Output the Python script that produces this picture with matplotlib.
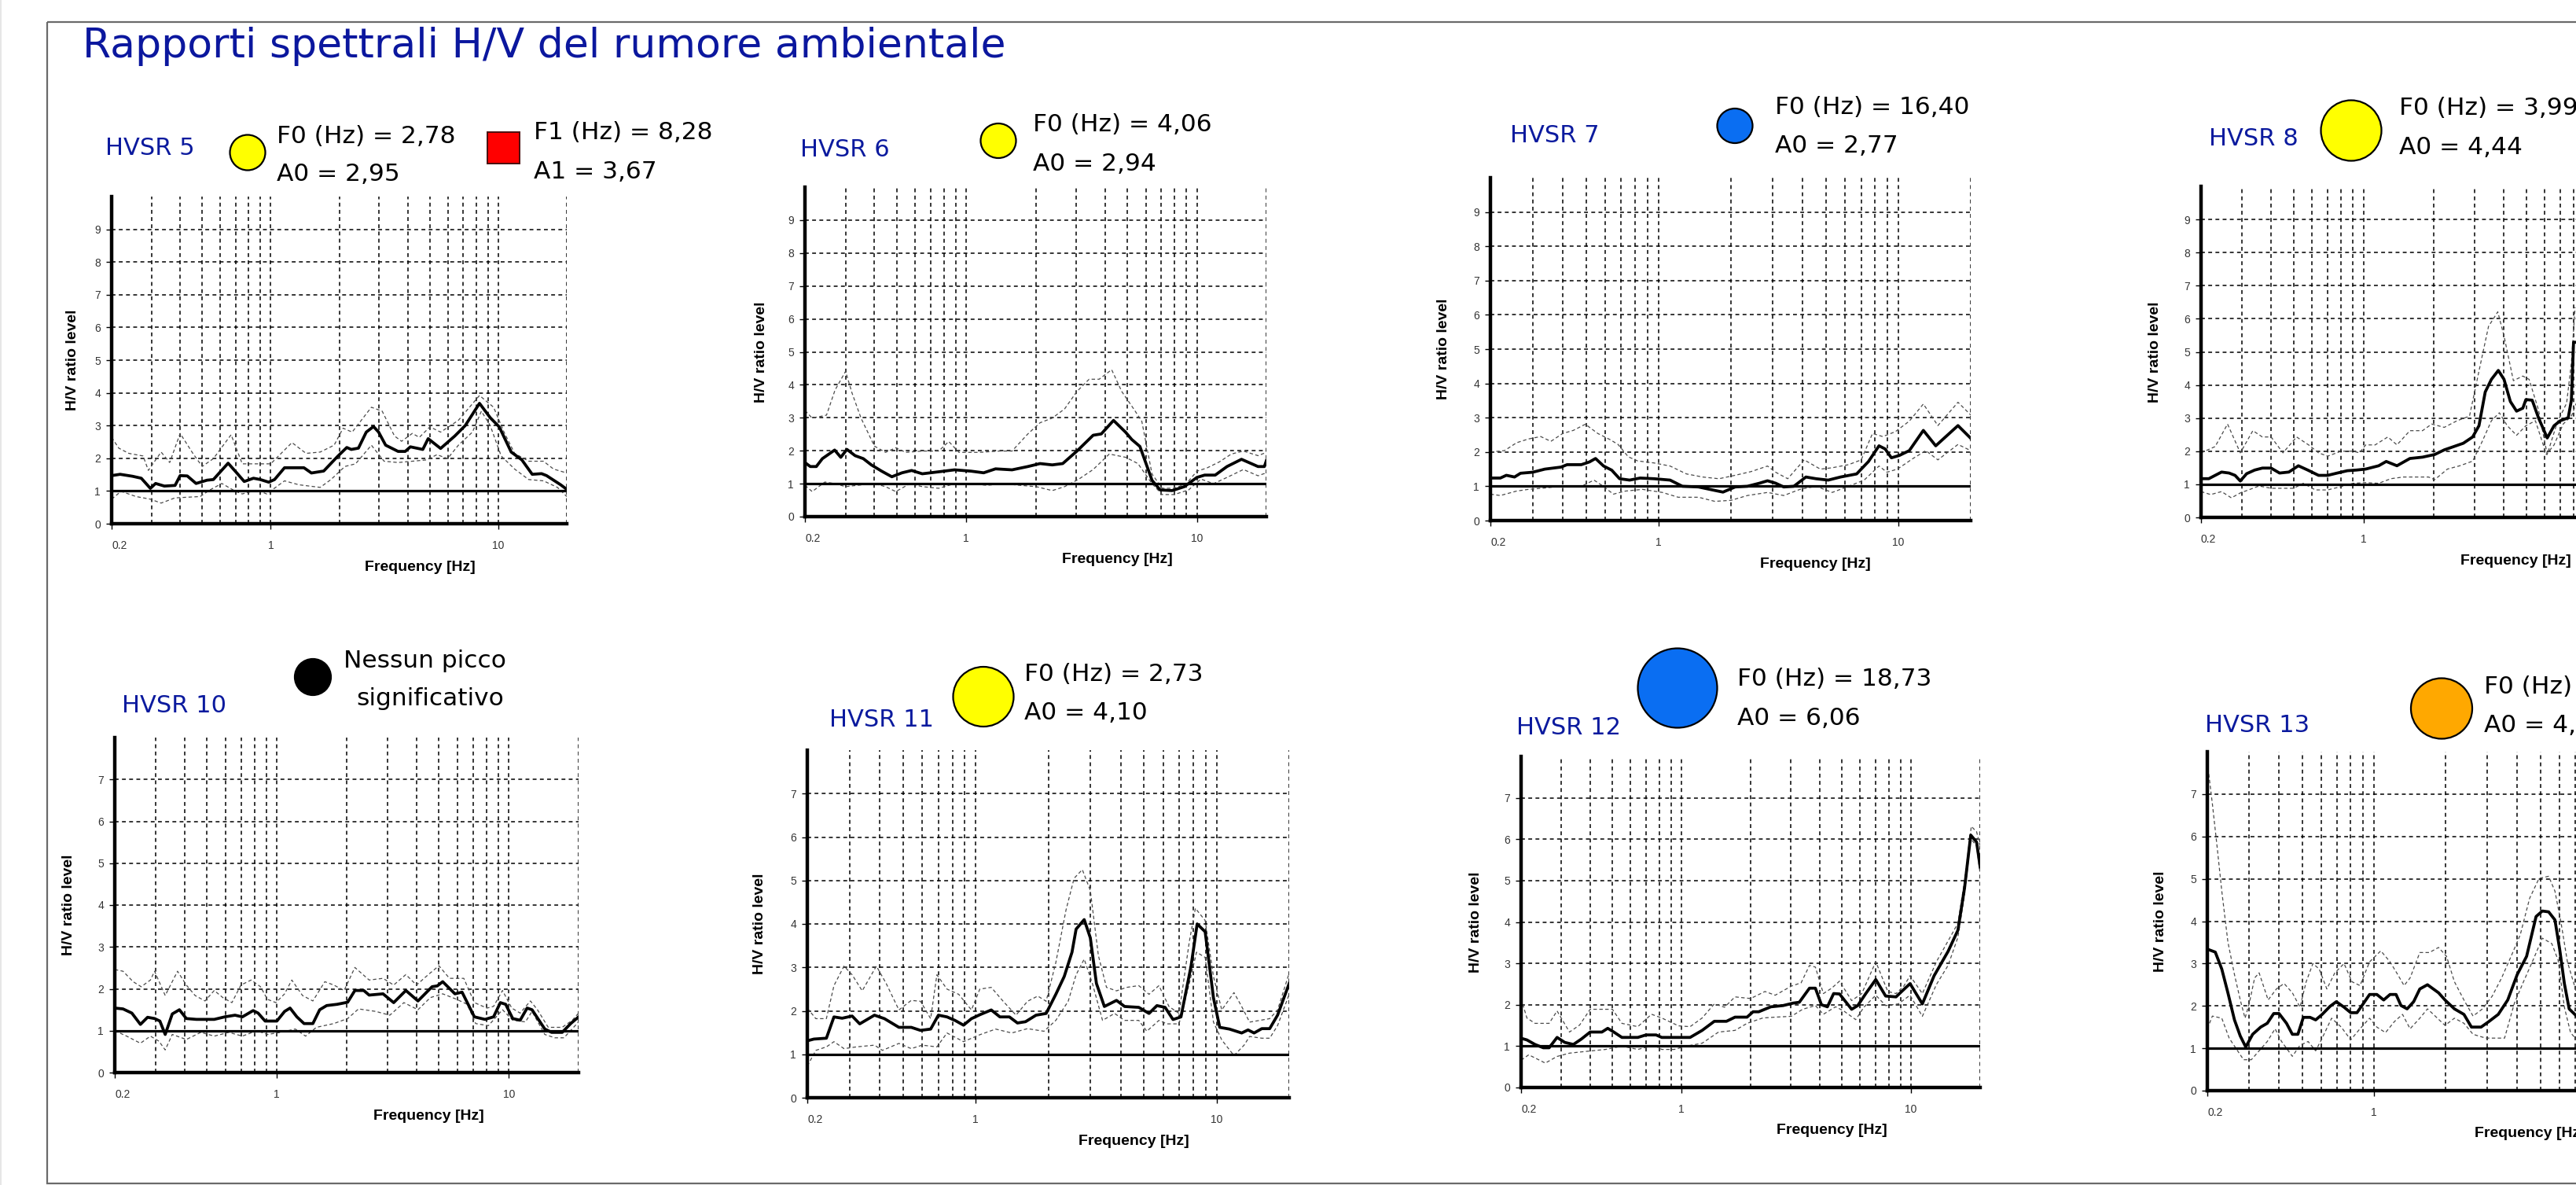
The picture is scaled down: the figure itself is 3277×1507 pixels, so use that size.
import matplotlib
matplotlib.use("Agg")
import matplotlib.pyplot as plt
from matplotlib.patches import Ellipse, Rectangle
from matplotlib.ticker import NullLocator

# Figure size in pixels (dpi 100)
W, H = 3277, 1507

TITLE = "Rapporti spettrali H/V del rumore ambientale"

# Frequencies of the dashed vertical grid
grid_f = [0.3, 0.4, 0.5, 0.6, 0.7, 0.8, 0.9, 1, 2, 3, 4, 5, 6, 7, 8, 9, 10, 20]

# ---- HVSR 5 : (frequency Hz, H/V) ----
h5_mean = [(0.2, 1.47), (0.218, 1.51), (0.247, 1.45), (0.27, 1.39), (0.296, 1.08), (0.312, 1.23),
           (0.341, 1.15), (0.38, 1.17), (0.40, 1.47), (0.43, 1.46), (0.47, 1.23), (0.525, 1.33),
           (0.56, 1.35), (0.65, 1.85), (0.71, 1.55), (0.765, 1.29), (0.84, 1.39), (0.90, 1.35),
           (0.98, 1.27), (1.04, 1.35), (1.15, 1.71), (1.40, 1.71), (1.51, 1.55), (1.71, 1.61),
           (1.97, 2.06), (2.16, 2.33), (2.26, 2.27), (2.43, 2.31), (2.63, 2.80), (2.83, 2.97),
           (2.98, 2.80), (3.20, 2.40), (3.63, 2.21), (3.90, 2.21), (4.11, 2.35), (4.66, 2.27),
           (4.92, 2.60), (5.58, 2.30), (6.44, 2.68), (7.16, 3.00), (8.27, 3.68), (9.22, 3.24),
           (10.1, 2.96), (11.4, 2.19), (12.7, 1.95), (14.1, 1.51), (15.5, 1.53), (16.3, 1.47),
           (18.8, 1.19), (20.0, 1.05)]
h5_up = [(0.2, 2.64), (0.215, 2.31), (0.238, 2.15), (0.275, 2.07), (0.29, 1.63), (0.33, 2.19),
         (0.36, 1.87), (0.40, 2.76), (0.455, 2.15), (0.50, 1.75), (0.56, 1.99), (0.67, 2.72),
         (0.75, 1.83), (0.87, 1.83), (1.0, 1.83), (1.24, 2.48), (1.43, 2.15), (1.65, 2.19),
         (1.90, 2.40), (2.08, 2.92), (2.28, 2.80), (2.77, 3.56), (3.09, 3.44), (3.50, 2.68),
         (3.76, 2.52), (4.19, 2.76), (4.50, 2.64), (5.01, 2.96), (5.58, 2.80), (6.68, 3.16),
         (8.27, 3.92), (9.54, 3.56), (10.6, 2.80), (11.8, 2.15), (13.6, 1.91), (15.8, 1.91),
         (17.5, 1.67), (20.0, 1.55)]
h5_lo = [(0.2, 0.75), (0.22, 0.99), (0.256, 0.83), (0.296, 0.75), (0.33, 0.63), (0.38, 0.79),
         (0.49, 0.83), (0.54, 1.03), (0.61, 1.23), (0.70, 0.99), (0.75, 0.91), (0.87, 1.03),
         (0.96, 0.91), (1.15, 1.31), (1.33, 1.19), (1.65, 1.11), (1.84, 1.35), (2.12, 1.75),
         (2.36, 1.83), (2.77, 2.40), (3.15, 1.91), (3.63, 1.87), (4.19, 1.91), (4.83, 1.95),
         (5.38, 2.11), (5.99, 1.99), (6.68, 2.40), (7.70, 2.80), (8.43, 3.44), (9.22, 3.00),
         (10.3, 2.07), (11.8, 1.67), (13.6, 1.35), (15.8, 1.31), (18.2, 1.11), (20.0, 0.83)]

# ---- HVSR 6 ----
h6_mean = [(0.2, 1.64), (0.211, 1.52), (0.224, 1.52), (0.238, 1.76), (0.269, 2.02), (0.286, 1.80),
           (0.304, 2.04), (0.33, 1.85), (0.358, 1.76), (0.388, 1.57), (0.43, 1.38), (0.476, 1.21),
           (0.527, 1.33), (0.58, 1.40), (0.645, 1.30), (0.759, 1.36), (0.89, 1.42), (1.05, 1.38),
           (1.19, 1.33), (1.34, 1.45), (1.58, 1.42), (1.85, 1.52), (2.09, 1.61), (2.36, 1.57),
           (2.62, 1.61), (3.02, 1.99), (3.55, 2.47), (3.85, 2.51), (4.35, 2.92), (4.91, 2.56),
           (5.22, 2.34), (5.66, 2.13), (6.39, 1.10), (6.93, 0.81), (7.81, 0.79), (8.82, 0.91),
           (10.0, 1.19), (10.8, 1.26), (12.0, 1.26), (13.5, 1.52), (15.6, 1.74), (18.4, 1.52),
           (19.6, 1.52), (20.0, 1.70)]
h6_up = [(0.2, 3.22), (0.215, 2.99), (0.248, 3.08), (0.27, 3.84), (0.30, 4.41), (0.32, 3.75),
         (0.35, 2.99), (0.40, 2.14), (0.447, 1.95), (0.495, 2.09), (0.547, 1.95), (0.645, 1.99),
         (0.76, 1.99), (0.84, 2.28), (0.93, 1.95), (1.14, 1.95), (1.39, 1.99), (1.58, 1.99),
         (1.85, 2.51), (2.09, 2.85), (2.36, 2.99), (2.67, 3.27), (3.02, 3.80), (3.41, 4.17),
         (3.77, 4.17), (4.27, 4.46), (4.72, 3.80), (5.32, 3.27), (5.77, 2.89), (6.39, 1.29),
         (7.07, 0.86), (7.98, 0.86), (9.0, 1.00), (10.0, 1.38), (11.0, 1.47), (12.5, 1.66),
         (14.1, 1.90), (15.9, 1.99), (18.4, 1.85), (20.0, 1.95)]
h6_lo = [(0.2, 0.95), (0.215, 0.76), (0.244, 1.05), (0.27, 1.00), (0.30, 0.91), (0.337, 0.95),
         (0.40, 1.00), (0.447, 0.91), (0.495, 0.76), (0.57, 1.00), (0.645, 0.91), (0.76, 0.86),
         (0.89, 1.00), (1.05, 1.00), (1.23, 0.95), (1.45, 1.00), (1.71, 0.95), (2.01, 0.91),
         (2.36, 0.79), (2.67, 0.91), (3.08, 1.14), (3.55, 1.43), (4.17, 1.90), (4.91, 1.80),
         (5.55, 1.61), (6.39, 1.00), (7.07, 0.67), (7.98, 0.67), (9.2, 0.81), (10.4, 1.14),
         (11.8, 1.00), (13.5, 1.19), (15.9, 1.43), (18.4, 1.24), (20.0, 1.33)]

# ---- HVSR 7 ----
h7_mean = [(0.2, 1.24), (0.22, 1.24), (0.233, 1.32), (0.252, 1.27), (0.267, 1.38), (0.30, 1.41),
           (0.337, 1.50), (0.394, 1.56), (0.417, 1.63), (0.478, 1.63), (0.517, 1.71), (0.548, 1.81),
           (0.592, 1.59), (0.64, 1.47), (0.69, 1.22), (0.76, 1.18), (0.84, 1.24), (0.96, 1.22),
           (1.12, 1.18), (1.26, 1.00), (1.47, 0.98), (1.69, 0.89), (1.86, 0.83), (2.09, 0.98),
           (2.35, 1.00), (2.64, 1.09), (2.85, 1.16), (3.08, 1.09), (3.33, 0.98), (3.67, 1.00),
           (4.12, 1.27), (4.54, 1.22), (5.10, 1.18), (5.74, 1.27), (6.7, 1.36), (7.5, 1.72),
           (8.3, 2.18), (8.8, 2.09), (9.35, 1.83), (10.1, 1.90), (11.1, 2.04), (12.7, 2.63),
           (14.3, 2.18), (17.7, 2.77), (20.0, 2.40)]
h7_up = [(0.2, 2.00), (0.229, 2.04), (0.257, 2.27), (0.288, 2.38), (0.324, 2.45), (0.357, 2.31),
         (0.40, 2.54), (0.443, 2.63), (0.497, 2.81), (0.56, 2.54), (0.63, 2.36), (0.68, 2.22),
         (0.75, 1.86), (0.82, 1.74), (0.96, 1.68), (1.12, 1.59), (1.31, 1.36), (1.53, 1.27),
         (1.79, 1.22), (2.09, 1.32), (2.44, 1.43), (2.85, 1.59), (3.08, 1.41), (3.46, 1.22),
         (4.05, 1.77), (4.73, 1.50), (5.3, 1.54), (6.2, 1.63), (7.0, 1.77), (7.8, 2.54),
         (8.6, 2.45), (9.7, 2.59), (11.1, 2.90), (12.7, 3.40), (14.6, 2.77), (17.7, 3.45),
         (20.0, 3.08)]
h7_lo = [(0.2, 0.77), (0.22, 0.73), (0.257, 0.86), (0.288, 0.91), (0.337, 0.95), (0.394, 1.00),
         (0.478, 1.00), (0.54, 1.18), (0.59, 1.00), (0.65, 0.77), (0.73, 0.86), (0.86, 0.91),
         (1.04, 0.82), (1.21, 0.68), (1.47, 0.68), (1.72, 0.56), (2.01, 0.59), (2.35, 0.73),
         (2.85, 0.82), (3.33, 0.73), (3.89, 0.91), (4.54, 1.00), (5.3, 0.82), (6.2, 1.00),
         (7.2, 1.18), (8.3, 1.59), (8.96, 1.41), (9.9, 1.50), (11.5, 1.81), (13.0, 2.04),
         (14.6, 1.77), (17.7, 2.22), (20.0, 2.04)]

# ---- HVSR 8 (the plot runs past the right edge of the slide) ----
h8_mean = [(0.2, 1.17), (0.216, 1.17), (0.23, 1.27), (0.245, 1.37), (0.264, 1.34), (0.28, 1.27),
           (0.295, 1.10), (0.314, 1.32), (0.34, 1.43), (0.367, 1.49), (0.40, 1.49), (0.435, 1.34),
           (0.477, 1.37), (0.524, 1.56), (0.575, 1.43), (0.64, 1.27), (0.70, 1.27), (0.77, 1.34),
           (0.85, 1.41), (0.93, 1.43), (1.02, 1.46), (1.16, 1.56), (1.25, 1.69), (1.39, 1.56),
           (1.58, 1.78), (1.79, 1.82), (2.02, 1.90), (2.22, 2.04), (2.44, 2.14), (2.68, 2.24),
           (2.94, 2.43), (3.13, 2.77), (3.33, 3.79), (3.54, 4.17), (3.79, 4.44), (4.01, 4.17),
           (4.27, 3.50), (4.54, 3.21), (4.83, 3.30), (4.98, 3.56), (5.30, 3.54), (5.64, 3.01),
           (6.15, 2.40), (6.58, 2.77), (7.0, 2.92), (7.57, 3.01), (7.81, 3.54), (7.98, 5.29),
           (8.3, 5.29)]
h8_up = [(0.2, 1.95), (0.23, 2.14), (0.26, 2.82), (0.295, 1.95), (0.334, 2.62), (0.367, 2.43),
         (0.40, 2.43), (0.45, 1.95), (0.515, 2.43), (0.58, 2.19), (0.64, 1.95), (0.70, 1.85),
         (0.80, 2.00), (0.90, 2.00), (0.96, 1.95), (1.02, 2.19), (1.12, 2.19), (1.27, 2.43),
         (1.39, 2.19), (1.58, 2.62), (1.79, 2.62), (1.96, 2.82), (2.22, 2.72), (2.52, 2.92),
         (2.85, 3.06), (3.13, 4.42), (3.44, 5.77), (3.77, 6.21), (4.01, 5.48), (4.40, 4.13),
         (4.83, 4.27), (5.14, 4.17), (5.64, 3.25), (6.15, 1.90), (6.79, 2.87), (7.45, 3.45),
         (7.81, 4.66), (8.1, 6.35)]
h8_lo = [(0.2, 0.78), (0.22, 0.69), (0.245, 0.78), (0.27, 0.59), (0.295, 0.74), (0.32, 0.83),
         (0.355, 0.95), (0.40, 0.88), (0.455, 0.88), (0.50, 0.88), (0.55, 1.03), (0.62, 0.83),
         (0.70, 0.83), (0.80, 0.93), (0.90, 1.03), (1.02, 1.05), (1.16, 1.03), (1.31, 1.17),
         (1.48, 1.22), (1.68, 1.22), (1.90, 1.22), (2.02, 1.14), (2.29, 1.46), (2.59, 1.56),
         (2.94, 1.70), (3.23, 2.29), (3.54, 2.92), (3.83, 3.16), (4.14, 2.77), (4.54, 2.48),
         (4.98, 2.77), (5.47, 2.92), (6.1, 1.90), (6.58, 2.19), (7.2, 2.82), (7.81, 3.06),
         (8.2, 3.45)]

# ---- HVSR 10 ----
h10_mean = [(0.2, 1.54), (0.217, 1.52), (0.237, 1.42), (0.258, 1.15), (0.277, 1.32), (0.297, 1.29),
            (0.313, 1.23), (0.33, 0.91), (0.354, 1.40), (0.38, 1.50), (0.407, 1.29), (0.45, 1.27),
            (0.537, 1.27), (0.596, 1.33), (0.66, 1.37), (0.71, 1.33), (0.79, 1.48), (0.83, 1.42),
            (0.89, 1.23), (1.0, 1.23), (1.08, 1.46), (1.14, 1.54), (1.22, 1.33), (1.31, 1.17),
            (1.43, 1.17), (1.53, 1.50), (1.64, 1.60), (1.82, 1.63), (2.02, 1.68), (2.17, 1.96),
            (2.37, 1.96), (2.50, 1.85), (2.87, 1.88), (3.19, 1.67), (3.60, 1.96), (4.06, 1.71),
            (4.67, 2.05), (4.92, 2.07), (5.19, 2.17), (5.86, 1.88), (6.29, 1.92), (7.11, 1.33),
            (7.90, 1.27), (8.6, 1.33), (9.2, 1.67), (9.7, 1.63), (10.4, 1.29), (11.2, 1.25),
            (12.0, 1.54), (12.6, 1.50), (14.3, 1.04), (15.3, 0.96), (17.0, 0.96), (18.5, 1.17),
            (20.0, 1.33)]
h10_up = [(0.2, 2.46), (0.217, 2.42), (0.24, 2.17), (0.26, 2.05), (0.285, 2.21), (0.297, 2.42),
          (0.33, 1.84), (0.373, 2.42), (0.407, 2.09), (0.444, 1.84), (0.49, 1.71), (0.537, 1.96),
          (0.585, 1.79), (0.64, 1.67), (0.70, 2.09), (0.775, 2.21), (0.85, 2.05), (0.91, 1.75),
          (0.99, 1.67), (1.08, 1.88), (1.16, 2.21), (1.29, 1.84), (1.43, 1.71), (1.61, 2.17),
          (1.76, 2.09), (1.95, 1.96), (2.17, 2.51), (2.50, 2.21), (2.87, 2.25), (3.19, 2.09),
          (3.60, 2.34), (4.0, 2.09), (4.50, 2.34), (5.0, 2.55), (5.55, 2.25), (6.4, 2.25),
          (7.11, 1.67), (8.05, 1.54), (8.6, 1.58), (9.4, 1.96), (10.3, 1.54), (11.2, 1.42),
          (12.4, 1.71), (13.3, 1.50), (14.8, 1.08), (17.0, 1.08), (18.8, 1.25), (20.0, 1.42)]
h10_lo = [(0.2, 1.00), (0.225, 0.87), (0.258, 0.70), (0.285, 0.87), (0.31, 0.75), (0.33, 0.54),
          (0.354, 0.91), (0.407, 0.79), (0.47, 0.96), (0.537, 0.87), (0.62, 0.96), (0.71, 0.87),
          (0.82, 1.00), (0.91, 0.91), (1.04, 0.96), (1.20, 1.04), (1.33, 0.87), (1.48, 1.08),
          (1.76, 1.17), (2.02, 1.29), (2.25, 1.52), (2.67, 1.46), (3.07, 1.37), (3.53, 1.67),
          (4.06, 1.50), (4.59, 1.79), (5.19, 1.88), (5.96, 1.75), (6.62, 1.63), (7.2, 1.17),
          (8.17, 1.12), (9.4, 1.50), (10.4, 1.25), (11.8, 1.21), (12.6, 1.46), (14.3, 0.91),
          (15.8, 0.83), (17.3, 0.83), (20.0, 1.21)]

# ---- HVSR 11 ----
h11_mean = [(0.2, 1.31), (0.213, 1.35), (0.24, 1.37), (0.258, 1.86), (0.279, 1.83), (0.307, 1.88),
            (0.33, 1.70), (0.38, 1.90), (0.418, 1.82), (0.48, 1.62), (0.54, 1.62), (0.59, 1.55),
            (0.65, 1.58), (0.70, 1.90), (0.76, 1.86), (0.82, 1.78), (0.89, 1.67), (0.96, 1.82),
            (1.04, 1.91), (1.16, 2.02), (1.26, 1.86), (1.38, 1.86), (1.49, 1.72), (1.61, 1.75),
            (1.78, 1.90), (1.96, 1.94), (2.15, 2.38), (2.33, 2.79), (2.51, 3.35), (2.61, 3.88),
            (2.82, 4.10), (2.99, 3.68), (3.17, 2.63), (3.42, 2.10), (3.84, 2.24), (4.15, 2.10),
            (4.75, 2.08), (5.24, 1.94), (5.65, 2.12), (6.11, 2.08), (6.59, 1.80), (7.11, 1.86),
            (7.83, 3.03), (8.3, 4.00), (8.96, 3.82), (9.7, 2.30), (10.3, 1.62), (11.3, 1.58),
            (12.7, 1.49), (13.5, 1.56), (14.3, 1.49), (15.4, 1.59), (16.6, 1.59), (17.9, 1.90),
            (20.0, 2.63)]
h11_up = [(0.2, 2.06), (0.217, 1.82), (0.24, 1.82), (0.258, 2.58), (0.284, 3.03), (0.307, 2.83),
          (0.338, 2.46), (0.387, 3.03), (0.425, 2.63), (0.48, 2.02), (0.54, 2.24), (0.59, 2.22),
          (0.65, 1.82), (0.69, 2.83), (0.76, 2.50), (0.85, 2.38), (0.96, 2.02), (1.04, 2.50),
          (1.16, 2.54), (1.30, 2.22), (1.47, 1.90), (1.64, 2.22), (1.81, 2.34), (1.96, 2.22),
          (2.15, 3.11), (2.37, 4.32), (2.56, 5.05), (2.77, 5.25), (2.99, 4.77), (3.23, 3.27),
          (3.49, 2.54), (3.84, 2.46), (4.23, 2.54), (4.75, 2.58), (5.24, 2.38), (5.76, 2.58),
          (6.34, 2.10), (6.98, 1.94), (7.70, 3.59), (8.16, 4.36), (8.96, 4.08), (9.7, 2.79),
          (10.5, 2.02), (11.8, 2.42), (12.7, 2.10), (13.7, 1.74), (16.6, 1.82), (17.9, 2.02),
          (20.0, 2.87)]
h11_lo = [(0.2, 0.73), (0.217, 1.09), (0.24, 1.17), (0.258, 1.29), (0.284, 1.13), (0.32, 1.17),
          (0.38, 1.21), (0.41, 1.09), (0.48, 1.25), (0.54, 1.13), (0.60, 1.21), (0.69, 1.17),
          (0.76, 1.49), (0.89, 1.29), (1.04, 1.45), (1.21, 1.58), (1.41, 1.49), (1.64, 1.59),
          (1.92, 1.53), (2.15, 1.78), (2.42, 2.22), (2.61, 2.83), (2.82, 3.19), (3.05, 2.63),
          (3.36, 1.78), (3.77, 1.94), (4.15, 1.78), (4.75, 1.78), (5.13, 1.53), (5.76, 1.78),
          (6.22, 1.70), (6.98, 1.70), (7.70, 2.63), (8.25, 3.35), (8.96, 3.23), (9.7, 1.74),
          (10.5, 1.33), (11.8, 0.97), (13.0, 1.21), (13.7, 1.41), (15.4, 1.37), (16.6, 1.37),
          (17.9, 1.66), (20.0, 2.38)]

# ---- HVSR 12 ----
h12_mean = [(0.2, 1.19), (0.212, 1.15), (0.23, 1.04), (0.25, 0.96), (0.265, 0.96), (0.287, 1.21),
            (0.31, 1.09), (0.338, 1.04), (0.366, 1.17), (0.40, 1.34), (0.45, 1.34), (0.477, 1.43),
            (0.507, 1.34), (0.55, 1.21), (0.645, 1.21), (0.70, 1.27), (0.775, 1.27), (0.82, 1.21),
            (0.97, 1.21), (1.09, 1.21), (1.23, 1.38), (1.39, 1.60), (1.57, 1.60), (1.71, 1.70),
            (1.93, 1.70), (2.05, 1.83), (2.17, 1.83), (2.45, 1.95), (2.77, 1.98), (3.07, 2.04),
            (3.26, 2.06), (3.61, 2.40), (3.83, 2.40), (4.07, 2.00), (4.32, 1.95), (4.6, 2.27),
            (4.88, 2.26), (5.51, 1.89), (5.86, 1.98), (6.35, 2.27), (7.02, 2.61), (7.75, 2.21),
            (8.6, 2.19), (9.1, 2.32), (9.9, 2.51), (11.2, 2.02), (12.6, 2.70), (14.5, 3.29),
            (16.0, 3.80), (17.1, 4.82), (18.2, 6.10), (19.3, 5.93), (20.0, 5.33)]
h12_up = [(0.2, 2.15), (0.212, 1.68), (0.23, 1.55), (0.265, 1.55), (0.287, 1.85), (0.325, 1.34),
          (0.36, 1.51), (0.40, 1.89), (0.45, 1.89), (0.50, 1.89), (0.55, 1.55), (0.645, 1.47),
          (0.74, 1.77), (0.82, 1.68), (0.97, 1.49), (1.09, 1.47), (1.23, 1.68), (1.39, 2.02),
          (1.54, 1.94), (1.71, 2.19), (2.00, 2.15), (2.31, 2.32), (2.56, 2.23), (3.01, 2.45),
          (3.32, 2.53), (3.61, 2.95), (3.83, 2.91), (4.15, 2.27), (4.51, 2.40), (4.88, 2.57),
          (5.51, 2.10), (6.10, 2.27), (7.02, 3.04), (7.92, 2.32), (8.6, 2.27), (9.3, 2.45),
          (9.9, 2.70), (11.2, 2.27), (12.9, 3.04), (14.8, 3.63), (16.0, 3.97), (17.1, 4.99),
          (18.3, 6.31), (19.3, 6.18), (20.0, 5.84)]
h12_lo = [(0.2, 0.66), (0.216, 0.79), (0.255, 0.59), (0.287, 0.75), (0.325, 0.83), (0.38, 0.87),
          (0.467, 0.92), (0.55, 1.00), (0.645, 0.92), (0.76, 1.02), (0.82, 0.92), (0.93, 0.92),
          (1.05, 1.00), (1.23, 1.07), (1.45, 1.34), (1.71, 1.38), (1.93, 1.55), (2.26, 1.68),
          (2.56, 1.70), (3.01, 1.72), (3.37, 1.89), (3.83, 1.98), (4.15, 1.77), (4.69, 1.95),
          (5.09, 1.85), (5.74, 1.64), (6.23, 1.94), (7.02, 2.23), (7.75, 1.98), (8.8, 2.02),
          (9.9, 2.23), (11.2, 1.72), (12.9, 2.49), (14.5, 2.95), (16.0, 3.63), (17.1, 4.65),
          (18.2, 6.01), (19.3, 5.84), (20.0, 5.16)]

# ---- HVSR 13 (the plot runs past the right edge of the slide) ----
h13_mean = [(0.2, 3.34), (0.216, 3.27), (0.23, 2.87), (0.244, 2.31), (0.26, 1.67), (0.275, 1.29),
            (0.29, 1.03), (0.31, 1.33), (0.335, 1.50), (0.357, 1.59), (0.38, 1.82), (0.40, 1.82),
            (0.43, 1.59), (0.455, 1.33), (0.48, 1.33), (0.506, 1.73), (0.54, 1.73), (0.57, 1.67),
            (0.607, 1.80), (0.655, 1.99), (0.696, 2.10), (0.75, 1.97), (0.80, 1.84), (0.85, 1.84),
            (0.90, 2.04), (0.96, 2.27), (1.03, 2.27), (1.10, 2.14), (1.17, 2.27), (1.24, 2.27),
            (1.30, 2.01), (1.38, 1.93), (1.47, 2.10), (1.56, 2.40), (1.68, 2.50), (1.87, 2.31),
            (1.99, 2.14), (2.18, 1.93), (2.39, 1.80), (2.57, 1.50), (2.82, 1.50), (3.04, 1.63),
            (3.33, 1.80), (3.65, 2.14), (4.0, 2.74), (4.38, 3.17), (4.80, 4.11), (5.1, 4.24),
            (5.42, 4.22), (5.76, 4.03), (6.03, 3.34), (6.31, 2.53), (6.61, 1.93), (7.1, 1.76),
            (7.5, 1.63)]
h13_up = [(0.2, 7.75), (0.21, 6.77), (0.22, 5.74), (0.23, 4.71), (0.244, 3.51), (0.26, 2.74),
          (0.275, 2.14), (0.288, 1.71), (0.30, 2.06), (0.316, 2.66), (0.33, 2.78), (0.36, 2.14),
          (0.39, 2.40), (0.42, 2.53), (0.455, 2.31), (0.49, 1.97), (0.52, 2.57), (0.555, 3.00),
          (0.59, 2.87), (0.635, 2.40), (0.686, 2.78), (0.75, 3.00), (0.81, 2.57), (0.875, 2.48),
          (0.96, 3.04), (1.07, 3.30), (1.17, 3.04), (1.26, 2.74), (1.34, 2.48), (1.42, 2.66),
          (1.56, 3.26), (1.71, 3.26), (1.87, 3.38), (2.02, 3.17), (2.18, 2.57), (2.39, 2.14),
          (2.61, 1.76), (2.86, 1.93), (3.14, 2.23), (3.44, 2.66), (3.77, 3.17), (4.12, 3.68),
          (4.51, 4.54), (4.94, 5.01), (5.42, 5.06), (5.76, 4.71), (6.12, 3.94), (6.5, 3.04),
          (7.1, 2.31), (7.5, 2.14)]
h13_lo = [(0.2, 1.46), (0.21, 1.76), (0.23, 1.71), (0.247, 1.24), (0.268, 0.94), (0.284, 0.73),
          (0.306, 0.73), (0.33, 0.94), (0.357, 1.16), (0.385, 1.46), (0.41, 1.16), (0.455, 0.81),
          (0.49, 1.07), (0.53, 1.16), (0.57, 0.94), (0.607, 1.24), (0.665, 1.71), (0.73, 1.50),
          (0.80, 1.20), (0.875, 1.46), (0.96, 1.71), (1.03, 1.50), (1.12, 1.37), (1.22, 1.63),
          (1.32, 1.80), (1.42, 1.46), (1.56, 1.71), (1.68, 1.93), (1.81, 1.76), (1.99, 1.54),
          (2.18, 1.71), (2.39, 1.59), (2.61, 1.33), (2.95, 1.24), (3.54, 1.24), (3.89, 2.06),
          (4.25, 2.57), (4.66, 3.08), (5.1, 3.60), (5.59, 3.47), (5.94, 3.08), (6.31, 1.97),
          (6.7, 1.37), (7.1, 1.20), (7.5, 1.11)]

# Peak annotations (text lines next to each coloured marker)
h5_peaks = ["F0 (Hz) = 2,78", "A0 = 2,95"]
h5_peaks_b = ["F1 (Hz) = 8,28", "A1 = 3,67"]
h6_peaks = ["F0 (Hz) = 4,06", "A0 = 2,94"]
h7_peaks = ["F0 (Hz) = 16,40", "A0 = 2,77"]
h8_peaks = ["F0 (Hz) = 3,99", "A0 = 4,44"]
h10_peaks = ["Nessun picco", "significativo"]
h11_peaks = ["F0 (Hz) = 2,73", "A0 = 4,10"]
h12_peaks = ["F0 (Hz) = 18,73", "A0 = 6,06"]
h13_peaks = ["F0 (Hz) = 3,62", "A0 = 4,23"]

# Layout in pixels: plot box (x0, y0, x1, y1), y max, ylabel offset
panels = [
    ("HVSR 5", (142, 250, 721, 666), 10, h5_mean, h5_up, h5_lo, 41),
    ("HVSR 6", (1024, 238, 1611, 657), 10, h6_mean, h6_up, h6_lo, 47),
    ("HVSR 7", (1896, 226, 2507, 662), 10, h7_mean, h7_up, h7_lo, 51),
    ("HVSR 8", (2800, 237, 3392, 658), 10, h8_mean, h8_up, h8_lo, 50),
    ("HVSR 10", (146, 938, 736, 1364), 8, h10_mean, h10_up, h10_lo, 50),
    ("HVSR 11", (1027, 954, 1640, 1396), 8, h11_mean, h11_up, h11_lo, 52),
    ("HVSR 12", (1935, 962, 2519, 1383), 8, h12_mean, h12_up, h12_lo, 49),
    ("HVSR 13", (2808, 956, 3414, 1387), 8, h13_mean, h13_up, h13_lo, 51),
]

CHART_FONT = "Liberation Sans"
SLIDE_FONT = "DejaVu Sans"
GRID_DASH = (0, (3.2, 2.8))

fig = plt.figure(figsize=(W / 100, H / 100), dpi=100)

for name, box, ymax, mean, up, lo, yoff in panels:
    x0, y0, x1, y1 = box
    ax = fig.add_axes([x0 / W, 1 - y1 / H, (x1 - x0) / W, (y1 - y0) / H])
    ax.set_xscale("log")
    ax.set_xlim(0.2, 20)
    ax.set_ylim(0, ymax)

    # dashed grid
    for f in grid_f:
        ax.axvline(f, color="black", lw=1.1, ls=GRID_DASH, zorder=1)
    for v in range(2, ymax):
        ax.axhline(v, color="black", lw=1.1, ls=GRID_DASH, zorder=1)
    ax.axhline(1, color="black", lw=2.3, zorder=3)

    # standard deviation curves and mean H/V
    for curve in (up, lo):
        ax.plot([p[0] for p in curve], [p[1] for p in curve],
                color="#4a4a4a", lw=0.9, ls=(0, (3.5, 2.5)), zorder=2)
    ax.plot([p[0] for p in mean], [p[1] for p in mean], color="black", lw=2.7, zorder=4)

    ax.xaxis.set_minor_locator(NullLocator())
    ax.set_xticks([0.2, 1, 10])
    ax.set_xticklabels(["0.2", "1", "10"])
    ax.get_xticklabels()[0].set_horizontalalignment("left")
    ax.set_yticks(range(ymax))
    ax.set_yticklabels([str(v) for v in range(ymax)])
    ax.tick_params(axis="both", direction="out", length=5, width=1.0, color="black",
                   labelsize=10, labelcolor="#333333")
    ax.tick_params(axis="x", pad=10)
    ax.tick_params(axis="y", pad=5)
    for lab in ax.get_xticklabels() + ax.get_yticklabels():
        lab.set_family(CHART_FONT)

    for s in ("top", "right"):
        ax.spines[s].set_visible(False)
    for s in ("left", "bottom"):
        ax.spines[s].set_linewidth(3.2)
        ax.spines[s].set_zorder(5)

    w = x1 - x0
    h = y1 - y0
    ax.set_ylabel("H/V ratio level", fontsize=14, fontweight="bold", family=CHART_FONT)
    ax.yaxis.set_label_coords(-yoff / w, 0.5)
    ax.set_xlabel("Frequency [Hz]", fontsize=14, fontweight="bold", family=CHART_FONT, va="center")
    ax.xaxis.set_label_coords(0.677, -55 / h)

# Overlay in pixel coordinates for the slide elements
ov = fig.add_axes([0, 0, 1, 1], zorder=10)
ov.set_xlim(0, W)
ov.set_ylim(H, 0)
ov.axis("off")
ov.patch.set_alpha(0)

# slide frame
ov.add_patch(Rectangle((60, 28), W, 1477, fill=False, edgecolor="#6a6a6a", lw=1.6))
ov.plot([1, 1], [0, H], color="#e6e6e6", lw=1.5)

ov.text(105, 73, TITLE, fontsize=37.5, color="#0B179E", family=SLIDE_FONT, va="baseline")

blue_txt = "#0B1A9E"
label_pos = [(134, 197), (1018, 199), (1921, 181), (2810, 185),
             (155, 906), (1055, 924), (1929, 934), (2805, 931)]
for (name, *_), (lx, ly) in zip(panels, label_pos):
    ov.text(lx, ly, name, fontsize=22, color=blue_txt, family=SLIDE_FONT, va="baseline")

# coloured markers: centre, width, height, colour
markers = [((315, 194), 45, 45, "#FFFF00"),
           ((1270, 179), 45, 44, "#FFFF00"),
           ((2207, 160), 45, 44, "#0A6EF2"),
           ((2991, 166), 77, 77, "#FFFF00"),
           ((398, 861), 46, 46, "black"),
           ((1251, 886), 77, 76, "#FFFF00"),
           ((2134, 875), 101, 101, "#0A6EF2"),
           ((3106, 901), 78, 77, "#FFA800")]
for c, mw, mh, col in markers:
    ov.add_patch(Ellipse(c, mw, mh, facecolor=col, edgecolor="black", lw=1.6))
ov.add_patch(Rectangle((620, 168), 41, 40, facecolor="#FF0000", edgecolor="#4a1010", lw=1.4))

# peak texts: lines, x, baselines
peak_texts = [(h5_peaks, 352, (182, 230)),
              (h5_peaks_b, 679, (177, 227)),
              (h6_peaks, 1314, (167, 217)),
              (h7_peaks, 2258, (145, 194)),
              (h8_peaks, 3052, (146, 196)),
              (h11_peaks, 1303, (866, 915)),
              (h12_peaks, 2210, (872, 922)),
              (h13_peaks, 3160, (882, 931))]
for lines, tx, bases in peak_texts:
    for s, by in zip(lines, bases):
        ov.text(tx, by, s, fontsize=22.5, color="black", family=SLIDE_FONT, va="baseline")

ov.text(540, 849, h10_peaks[0], fontsize=22.5, family=SLIDE_FONT, ha="center", va="baseline")
ov.text(547, 897, h10_peaks[1], fontsize=22.5, family=SLIDE_FONT, ha="center", va="baseline")

plt.savefig("out.png", dpi=100)
